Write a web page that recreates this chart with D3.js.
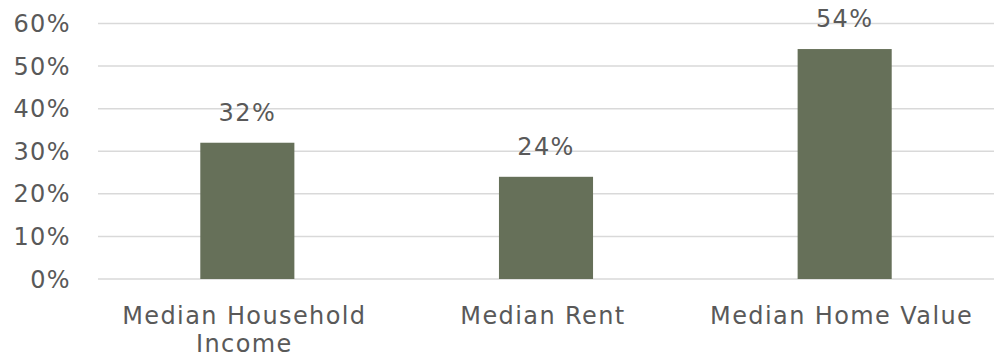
<!DOCTYPE html>
<html>
<head>
<meta charset="utf-8">
<script src="https://cdn.jsdelivr.net/npm/d3@7"></script>
<style>
  html, body { margin: 0; padding: 0; background: #fff; }
  svg text { font-family: "DejaVu Sans", sans-serif; fill: #595959; letter-spacing: 1.4px; }
</style>
</head>
<body>
<svg id="chart" width="994" height="364"></svg>
<script>
// Percentage change by measure
const categories = ["Median Household Income", "Median Rent", "Median Home Value"];
const categoryLines = [["Median Household", "Income"], ["Median Rent"], ["Median Home Value"]];
const values = [32, 24, 54];
const yTicks = [0, 10, 20, 30, 40, 50, 60];

const svg = d3.select("#chart");
const left = 98, right = 994, yBottom = 279, yTop = 23.5;
const fontSize = "24px";

const x = d3.scaleBand()
  .domain(categories)
  .range([left, right])
  .paddingInner(0.685)
  .paddingOuter(0.3425);

const y = d3.scaleLinear().domain([0, 60]).range([yBottom, yTop]);

// gridlines
svg.append("g")
  .selectAll("line")
  .data(yTicks)
  .join("line")
  .attr("x1", left).attr("x2", right)
  .attr("y1", d => y(d)).attr("y2", d => y(d))
  .attr("stroke", "#d9d9d9")
  .attr("stroke-width", 1.5);

// y axis labels
svg.append("g")
  .selectAll("text")
  .data(yTicks)
  .join("text")
  .attr("x", 71)
  .attr("y", d => y(d))
  .attr("dy", "0.36em")
  .attr("text-anchor", "end")
  .style("font-size", fontSize)
  .text(d => d + "%");

// bars
svg.append("g")
  .selectAll("rect")
  .data(values)
  .join("rect")
  .attr("x", (d, i) => x(categories[i]))
  .attr("width", x.bandwidth())
  .attr("y", d => y(d))
  .attr("height", d => y(0) - y(d))
  .attr("fill", "#667059");

// value labels
svg.append("g")
  .selectAll("text")
  .data(values)
  .join("text")
  .attr("x", (d, i) => x(categories[i]) + x.bandwidth() / 2)
  .attr("y", d => y(d) - 22)
  .attr("text-anchor", "middle")
  .style("font-size", fontSize)
  .text(d => d + "%");

// category labels
const cat = svg.append("g")
  .selectAll("text")
  .data(categories)
  .join("text")
  .attr("x", d => x(d) + x.bandwidth() / 2 - 3)
  .attr("y", 324)
  .attr("text-anchor", "middle")
  .style("font-size", fontSize);

cat.selectAll("tspan")
  .data((d, i) => categoryLines[i])
  .join("tspan")
  .attr("x", function() { return d3.select(this.parentNode).attr("x"); })
  .attr("dy", (d, j) => j === 0 ? 0 : 28)
  .text(d => d);
</script>
</body>
</html>
